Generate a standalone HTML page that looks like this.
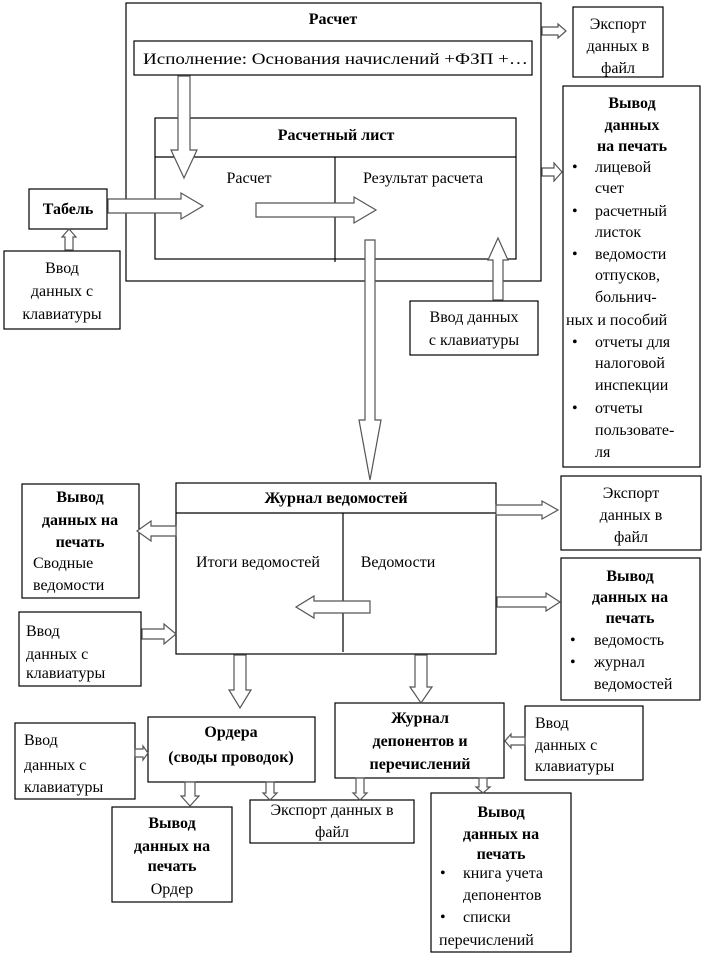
<!DOCTYPE html>
<html><head><meta charset="utf-8"><style>
html,body{margin:0;padding:0;background:#fff;}
svg{display:block;}
text{font-family:"Liberation Serif",serif;font-size:16px;fill:#000;}
.b{font-weight:bold;}
rect,line{fill:#fff;stroke:#000;stroke-width:1.2;}
.a{fill:#fff;stroke:#555;stroke-width:1.2;}
</style></head><body>
<svg id="s" width="704" height="956" viewBox="0 0 704 956" xmlns="http://www.w3.org/2000/svg">
<rect x="126" y="3" width="415" height="278"/>
<text x="333" y="24" text-anchor="middle" class="b">Расчет</text>
<rect x="134" y="41" width="398" height="34"/>
<text x="143" y="64" textLength="385" lengthAdjust="spacingAndGlyphs">Исполнение: Основания начислений +ФЗП +…</text>
<rect x="155" y="118" width="361" height="141"/>
<line x1="155" y1="157" x2="516" y2="157"/>
<line x1="335" y1="157" x2="335" y2="262"/>
<text x="336" y="140" text-anchor="middle" class="b">Расчетный лист</text>
<text x="249" y="183" text-anchor="middle">Расчет</text>
<text x="423" y="183" text-anchor="middle">Результат расчета</text>

<rect x="573" y="7" width="90" height="70"/>
<text x="618" y="29" text-anchor="middle">Экспорт</text>
<text x="618" y="51" text-anchor="middle">данных в</text>
<text x="618" y="73" text-anchor="middle">файл</text>

<rect x="563" y="86" width="137" height="381"/>
<text x="632" y="108" text-anchor="middle" class="b">Вывод</text>
<text x="632" y="130" text-anchor="middle" class="b">данных</text>
<text x="632" y="151" text-anchor="middle" class="b">на печать</text>
<text x="572" y="172">•</text><text x="595" y="172">лицевой</text>
<text x="595" y="193">счет</text>
<text x="572" y="216">•</text><text x="595" y="216">расчетный</text>
<text x="595" y="237">листок</text>
<text x="572" y="259">•</text><text x="595" y="259">ведомости</text>
<text x="595" y="280">отпусков,</text>
<text x="595" y="302">больнич-</text>
<text x="566" y="325">ных и пособий</text>
<text x="572" y="347">•</text><text x="595" y="347">отчеты для</text>
<text x="595" y="368">налоговой</text>
<text x="595" y="390">инспекции</text>
<text x="572" y="413">•</text><text x="595" y="413">отчеты</text>
<text x="595" y="435">пользовате-</text>
<text x="595" y="457">ля</text>

<rect x="29" y="189" width="78" height="40"/>
<text x="68" y="214" text-anchor="middle" class="b">Табель</text>
<rect x="4" y="251" width="116" height="78"/>
<text x="62" y="273" text-anchor="middle">Ввод</text>
<text x="62" y="296" text-anchor="middle">данных с</text>
<text x="62" y="319" text-anchor="middle">клавиатуры</text>

<rect x="410" y="301" width="128" height="54"/>
<text x="474" y="322" text-anchor="middle">Ввод данных</text>
<text x="474" y="345" text-anchor="middle">с клавиатуры</text>

<rect x="176" y="483" width="320" height="171"/>
<line x1="176" y1="513" x2="496" y2="513"/>
<line x1="343" y1="513" x2="343" y2="652"/>
<text x="336" y="503" text-anchor="middle" class="b">Журнал ведомостей</text>
<text x="258" y="567" text-anchor="middle">Итоги ведомостей</text>
<text x="398" y="567" text-anchor="middle">Ведомости</text>

<rect x="22" y="484" width="117" height="114"/>
<text x="80" y="502" text-anchor="middle" class="b">Вывод</text>
<text x="80" y="525" text-anchor="middle" class="b">данных на</text>
<text x="80" y="547" text-anchor="middle" class="b">печать</text>
<text x="33" y="568">Сводные</text>
<text x="33" y="590">ведомости</text>

<rect x="19" y="612" width="122" height="74"/>
<text x="26" y="636">Ввод</text>
<text x="26" y="659">данных с</text>
<text x="26" y="678">клавиатуры</text>

<rect x="561" y="476" width="140" height="74"/>
<text x="631" y="498" text-anchor="middle">Экспорт</text>
<text x="631" y="520" text-anchor="middle">данных в</text>
<text x="631" y="542" text-anchor="middle">файл</text>

<rect x="561" y="558" width="139" height="142"/>
<text x="630" y="581" text-anchor="middle" class="b">Вывод</text>
<text x="630" y="602" text-anchor="middle" class="b">данных на</text>
<text x="630" y="623" text-anchor="middle" class="b">печать</text>
<text x="570" y="645">•</text><text x="594" y="645">ведомость</text>
<text x="570" y="667">•</text><text x="594" y="667">журнал</text>
<text x="594" y="689">ведомостей</text>

<rect x="148" y="717" width="167" height="65"/>
<text x="231" y="737" text-anchor="middle" class="b">Ордера</text>
<text x="231" y="762" text-anchor="middle" class="b">(своды проводок)</text>

<rect x="335" y="703" width="169" height="75"/>
<text x="420" y="723" text-anchor="middle" class="b">Журнал</text>
<text x="420" y="746" text-anchor="middle" class="b">депонентов и</text>
<text x="420" y="769" text-anchor="middle" class="b">перечислений</text>

<rect x="15" y="723" width="120" height="76"/>
<text x="24" y="745">Ввод</text>
<text x="24" y="770">данных с</text>
<text x="24" y="792">клавиатуры</text>

<rect x="525" y="706" width="118" height="74"/>
<text x="535" y="728">Ввод</text>
<text x="535" y="750">данных с</text>
<text x="535" y="771">клавиатуры</text>

<rect x="112" y="807" width="120" height="95"/>
<text x="172" y="828" text-anchor="middle" class="b">Вывод</text>
<text x="172" y="851" text-anchor="middle" class="b">данных на</text>
<text x="172" y="871" text-anchor="middle" class="b">печать</text>
<text x="172" y="894" text-anchor="middle">Ордер</text>

<rect x="250" y="800" width="164" height="43"/>
<text x="332" y="815" text-anchor="middle">Экспорт данных в</text>
<text x="332" y="837" text-anchor="middle">файл</text>

<rect x="431" y="793" width="140" height="159"/>
<text x="501" y="817" text-anchor="middle" class="b">Вывод</text>
<text x="501" y="839" text-anchor="middle" class="b">данных на</text>
<text x="501" y="859" text-anchor="middle" class="b">печать</text>
<text x="440" y="878">•</text><text x="463" y="878">книга учета</text>
<text x="463" y="900">депонентов</text>
<text x="440" y="922">•</text><text x="463" y="922">списки</text>
<text x="439" y="945">перечислений</text>

<g id="arrows"></g>
</svg>
<script>
function A(x1,y1,x2,y2,w,hw,hl){
 var dx=x2-x1,dy=y2-y1,L=Math.sqrt(dx*dx+dy*dy),ux=dx/L,uy=dy/L,px=-uy,py=ux;
 var bx=x2-ux*hl,by=y2-uy*hl;
 var p=[[x1+px*w/2,y1+py*w/2],[bx+px*w/2,by+py*w/2],[bx+px*hw/2,by+py*hw/2],[x2,y2],
 [bx-px*hw/2,by-py*hw/2],[bx-px*w/2,by-py*w/2],[x1-px*w/2,y1-py*w/2]];
 var e=document.createElementNS("http://www.w3.org/2000/svg","polygon");
 e.setAttribute("points",p.map(function(q){return q[0].toFixed(1)+","+q[1].toFixed(1)}).join(" "));
 e.setAttribute("class","a");
 document.getElementById("arrows").appendChild(e);
}
A(108,206,203,206,14,26,22);
A(256,210,376,210,14,26,22);
A(184,76,184,178,12,26,28);
A(498,300,498,238,10,20,22);
A(370,240,370,480,10,22,60);
A(69,250,69,229,8,14,8);
A(542,31,566,31,8,14,8);
A(542,172,562,172,8,18,8);
A(176,531,137,531,10,20,14);
A(142,634,176,634,10,20,12);
A(496,510,558,510,10,18,16);
A(497,602,560,602,10,18,14);
A(370,607,296,607,12,22,18);
A(240,655,240,708,12,22,18);
A(421,655,421,703,12,22,16);
A(135,753,148,753,8,14,5);
A(525,741,505,741,8,14,6);
A(190,782,190,806,10,18,10);
A(270,782,270,800,8,14,7);
A(360,778,360,800,8,14,7);
A(483,778,483,793,8,14,6);
</script>
</body></html>
